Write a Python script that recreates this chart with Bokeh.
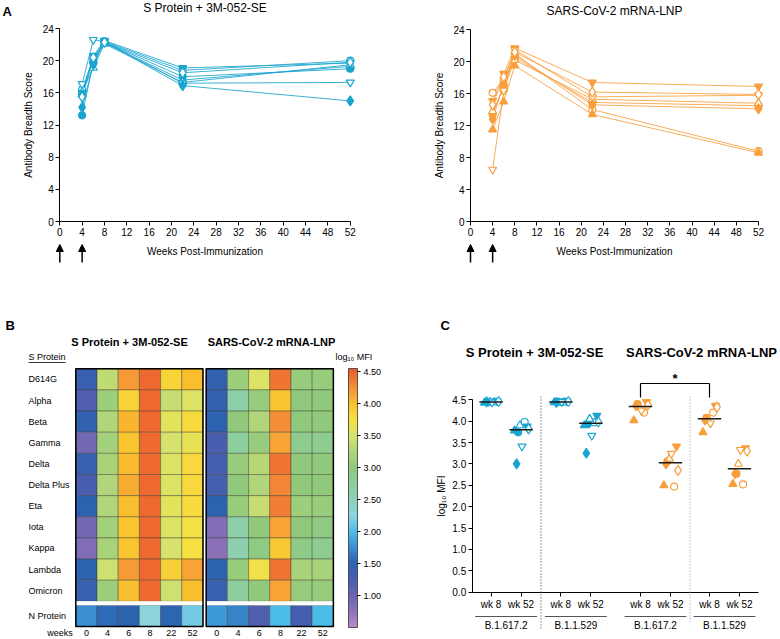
import numpy as np
from bokeh.plotting import figure
from bokeh.layouts import column, row
from bokeh.models import (ColumnDataSource, Range1d, FixedTicker, Label, Arrow, NormalHead,
                          ColorBar, LinearColorMapper, PrintfTickFormatter)
from bokeh.core.properties import value
from bokeh.embed import file_html
from bokeh.resources import INLINE

FONT = "Liberation Sans"
BLUE = "#19a5cf"
ORANGE = "#f89f3d"

# ---------------- data: panel A ----------------
weeks_a = [4, 6, 8, 22, 52]
boost_weeks = [0, 4]
animal_markers = ["circle", "circle", "triangle", "triangle",
                  "inverted_triangle", "inverted_triangle", "diamond", "diamond"]
animal_filled = [True, False, True, False, True, False, True, False]
s_breadth = [
    [13.2, 19.8, 22.3, 18.0, 19.0],
    [16.4, 20.3, 22.4, 18.8, 20.0],
    [15.8, 20.0, 22.2, 17.6, 19.3],
    [16.1, 19.1, 22.1, 17.3, 19.5],
    [16.0, 20.6, 22.5, 19.1, 19.7],
    [17.1, 22.6, 22.4, 17.2, 17.3],
    [14.2, 19.5, 22.3, 16.9, 15.0],
    [15.5, 20.4, 22.3, 18.5, 19.8],
]
m_breadth = [
    [13.4, 17.0, 20.5, 14.9, 14.5],
    [16.1, 17.8, 21.0, 14.0, 8.8],
    [11.5, 15.0, 19.5, 13.4, 8.6],
    [13.8, 16.6, 20.2, 15.3, 14.8],
    [15.1, 18.5, 21.7, 17.4, 16.9],
    [6.5, 16.4, 21.5, 15.6, 15.8],
    [12.8, 17.3, 20.8, 14.6, 14.1],
    [14.6, 18.1, 21.2, 16.2, 15.9],
]

# ---------------- data: panel B ----------------
antigens = ["D614G", "Alpha", "Beta", "Gamma", "Delta", "Delta Plus", "Eta",
            "Iota", "Kappa", "Lambda", "Omicron", "N Protein"]
heat_weeks = [0, 4, 6, 8, 22, 52]
s_heat = [
    [1.40, 3.35, 4.20, 4.47, 3.85, 4.00],
    [1.20, 3.10, 3.85, 4.47, 3.40, 3.55],
    [1.45, 3.25, 4.05, 4.47, 3.60, 3.80],
    [0.95, 3.15, 3.95, 4.47, 3.50, 3.62],
    [1.40, 3.20, 4.02, 4.47, 3.55, 3.82],
    [1.25, 3.25, 4.10, 4.47, 3.55, 3.82],
    [1.50, 3.25, 4.00, 4.47, 3.60, 3.80],
    [0.95, 3.15, 3.95, 4.47, 3.55, 3.72],
    [0.85, 3.20, 3.95, 4.47, 3.50, 3.75],
    [1.50, 3.45, 4.20, 4.47, 3.88, 4.15],
    [1.40, 3.10, 4.00, 4.47, 3.45, 4.00],
    [1.75, 1.55, 1.50, 2.30, 1.52, 2.15],
]
m_heat = [
    [1.45, 3.10, 3.55, 4.40, 3.05, 3.05],
    [1.45, 2.65, 3.05, 3.95, 3.00, 3.00],
    [1.50, 3.00, 3.25, 4.25, 3.00, 3.00],
    [1.25, 2.70, 3.05, 4.15, 2.85, 2.85],
    [1.30, 3.05, 3.30, 4.40, 3.00, 3.00],
    [1.30, 3.00, 3.25, 4.30, 3.00, 3.00],
    [1.50, 3.05, 3.40, 4.35, 3.10, 3.05],
    [0.85, 2.65, 3.00, 4.15, 3.00, 2.95],
    [0.80, 2.60, 2.95, 3.92, 2.90, 2.85],
    [1.50, 3.05, 3.70, 4.40, 3.20, 3.20],
    [1.40, 2.70, 3.00, 4.15, 3.05, 3.05],
    [1.80, 1.70, 1.20, 2.00, 1.30, 2.00],
]
vaccines = ["S Protein + 3M-052-SE", "SARS-CoV-2 mRNA-LNP"]
cbar_ticks = [1.0, 1.5, 2.0, 2.5, 3.0, 3.5, 4.0, 4.5]

# ---------------- data: panel C ----------------
c_variants = ["B.1.617.2", "B.1.1.529", "B.1.617.2", "B.1.1.529"]
c_times = ["wk 8", "wk 52"]
s_delta_wk8 = [4.44, 4.46, 4.43, 4.45, 4.47, 4.44, 4.45, 4.46]
s_delta_wk52 = [3.74, 3.98, 3.78, 3.90, 3.88, 3.41, 3.00, 3.82]
s_omicron_wk8 = [4.45, 4.46, 4.44, 4.43, 4.47, 4.45, 4.44, 4.46]
s_omicron_wk52 = [3.93, 3.97, 3.90, 4.05, 4.13, 3.66, 3.25, 3.98]
m_delta_wk8 = [4.40, 4.20, 4.02, 4.32, 4.45, 4.25, 4.36, 4.38]
m_delta_wk52 = [3.06, 2.47, 2.50, 3.12, 3.41, 3.24, 3.00, 2.85]
m_omicron_wk8 = [4.08, 4.20, 3.74, 4.00, 4.36, 3.95, 4.03, 4.33]
m_omicron_wk52 = [2.77, 2.52, 2.53, 3.00, 3.37, 3.33, 2.77, 3.30]
c_yticks = [0.0, 0.5, 1.0, 1.5, 2.0, 2.5, 3.0, 3.5, 4.0, 4.5]

# ---------------- helpers ----------------
MSIZE = {"circle": 7, "triangle": 8, "inverted_triangle": 8, "diamond": 10}


class PxMap:
    """Maps pixel positions inside a figure (from its top-left) to data units."""
    def __init__(self, W, H, ox, oy, sx, sy):
        self.W, self.H, self.ox, self.oy, self.sx, self.sy = W, H, ox, oy, sx, sy
        self.x0, self.x1 = -ox / sx, (W - ox) / sx
        self.y0, self.y1 = -(H - oy) / sy, oy / sy

    def x(self, px):
        return (px - self.ox) / self.sx

    def y(self, py):
        return (self.oy - py) / self.sy


def make_fig(m):
    p = figure(width=m.W, height=m.H, x_range=Range1d(m.x0, m.x1), y_range=Range1d(m.y0, m.y1),
               output_backend="svg", toolbar_location=None, min_border=0)
    p.grid.visible = False
    p.outline_line_color = None
    p.background_fill_color = "white"
    p.border_fill_color = "white"
    if "frame_align" in p.properties():
        p.frame_align = False
    return p


def style_axes(p, size="10px"):
    for ax in p.axis:
        ax.axis_line_color = "black"
        ax.major_tick_line_color = "black"
        ax.minor_tick_line_color = None
        ax.major_tick_in = 0
        ax.major_tick_out = 4
        ax.major_label_text_font = FONT
        ax.major_label_text_font_size = size
        ax.major_label_text_color = "black"
        ax.axis_label_text_font = FONT
        ax.axis_label_text_font_size = size
        ax.axis_label_text_font_style = "normal"
        ax.axis_label_text_color = "black"


def lab(p, x, y, text, size, bold=False, align="center", baseline="middle"):
    p.add_layout(Label(x=x, y=y, text=text, text_font=FONT, text_font_size=f"{size}px",
                       text_font_style="bold" if bold else "normal", text_color="black",
                       text_align=align, text_baseline=baseline))


def seg(p, x0, y0, x1, y1, color="black", width=1.0, dash="solid"):
    p.add_layout(Arrow(end=None, x_start=x0, y_start=y0, x_end=x1, y_end=y1,
                       line_color=color, line_width=width, line_dash=dash))


# ---------------- panel A ----------------
TOP_H = 300


def make_panel_a(title, data, color, m, title_py, letter=None):
    p = make_fig(m)
    style_axes(p)
    p.xaxis.fixed_location = 0
    p.yaxis.fixed_location = 0
    p.xaxis.bounds = (0, 52)
    p.yaxis.bounds = (0, 24)
    p.xaxis.ticker = FixedTicker(ticks=list(range(0, 53, 4)))
    p.yaxis.ticker = FixedTicker(ticks=list(range(0, 25, 4)))
    p.xaxis.axis_label = "Weeks Post-Immunization"
    p.yaxis.axis_label = "Antibody Breadth Score"
    p.xaxis.major_label_standoff = 2
    p.yaxis.major_label_standoff = 2
    p.xaxis.axis_label_standoff = 7
    p.yaxis.axis_label_standoff = 5
    for vals in data:
        p.line(weeks_a, vals, line_color=color, line_width=1, line_alpha=0.85)
    for vals, mk, f in zip(data, animal_markers, animal_filled):
        p.scatter(weeks_a, vals, marker=mk, size=MSIZE[mk], line_color=color,
                  fill_color=color if f else "white", line_width=1.2)
    lab(p, 26, m.y(title_py), title, 12)
    for w in boost_weeks:
        p.add_layout(Arrow(end=NormalHead(size=7, fill_color="black", line_color="black"),
                           x_start=w, y_start=m.y(262), x_end=w, y_end=m.y(244),
                           line_color="black", line_width=1.5))
    if letter:
        lab(p, m.x(2), m.y(10.5), letter, 13, bold=True, align="left")
    return p


ma1 = PxMap(390, TOP_H, 59.3, 221, 5.585, 8.04)
ma2 = PxMap(390, TOP_H, 80.0, 221, 5.538, 7.99)
pa1 = make_panel_a(vaccines[0], s_breadth, BLUE, ma1, 7.5, letter="A")
pa2 = make_panel_a(vaccines[1], m_breadth, ORANGE, ma2, 10)

# ---------------- panel B ----------------
BOT_H = 338
WB = 432
mb = PxMap(WB, BOT_H, 75.3, 326, 21.2, 21.14)
n_rows = len(antigens) - 1
row_gap = 0.19
block_gap = 0.15
ytop = n_rows + row_gap + 1

stops = [(0.50, "#b98ac8"), (0.75, "#8f72b8"), (1.00, "#6a65b2"), (1.25, "#4a5eb0"),
         (1.50, "#2c62b0"), (1.75, "#3a8fd3"), (2.00, "#4dbde9"), (2.25, "#8bd5e0"),
         (2.50, "#8dd1ba"), (2.75, "#8dcd9a"), (3.00, "#8fc97c"), (3.25, "#b0d57a"),
         (3.50, "#d5e26c"), (3.75, "#f7e142"), (4.00, "#f9c02c"), (4.25, "#f5913a"),
         (4.55, "#ec5a2b")]
sv = np.array([s[0] for s in stops])
srgb = np.array([[int(s[1][i:i + 2], 16) for i in (1, 3, 5)] for s in stops], dtype=float)
grid_v = np.linspace(sv[0], sv[-1], 256)
palette = ["#%02x%02x%02x" % tuple(int(round(np.interp(g, sv, srgb[:, k]))) for k in range(3))
           for g in grid_v]
mapper = LinearColorMapper(palette=palette, low=sv[0], high=sv[-1])

pb = make_fig(mb)
style_axes(pb, "9px")
pb.yaxis.visible = False

xs, ys, vs = [], [], []
col_centers = []
for b, block in enumerate([s_heat, m_heat]):
    x_off = b * (len(heat_weeks) + block_gap)
    for i in range(len(heat_weeks)):
        col_centers.append(x_off + i + 0.5)
    for r, rowvals in enumerate(block):
        yc = ytop - r - 0.5 if r < n_rows else 0.5
        for i, v in enumerate(rowvals):
            xs.append(x_off + i + 0.5)
            ys.append(yc)
            vs.append(v)
src_b = ColumnDataSource(dict(x=xs, y=ys, v=vs))
pb.rect("x", "y", width=1, height=1, source=src_b,
        fill_color={"field": "v", "transform": mapper},
        line_color="#3d3d30", line_alpha=0.6, line_width=0.7)
block_centers = [b * (len(heat_weeks) + block_gap) + len(heat_weeks) / 2 for b in range(2)]
pb.rect(block_centers, [1 + row_gap / 2] * 2, width=len(heat_weeks), height=row_gap,
        fill_color="white", line_color=None)
pb.rect(block_centers, [ytop / 2] * 2, width=len(heat_weeks), height=ytop,
        fill_color=None, line_color="black", line_width=1.5)

row_y = [ytop - r - 0.5 for r in range(n_rows)] + [0.5]
label_x = mb.x(28)
pb.text([label_x] * len(antigens), row_y, text=antigens, text_font=value(FONT),
        text_font_size="9px", text_baseline="middle", text_align="left", text_color="black")

weeks_tick = mb.x(59.5)
pb.xaxis.fixed_location = 0
pb.xaxis.bounds = (weeks_tick - 0.5, col_centers[-1] + 0.5)
pb.xaxis.ticker = FixedTicker(ticks=[weeks_tick] + col_centers)
overrides = {weeks_tick: "weeks"}
for k, cx in enumerate(col_centers):
    overrides[cx] = str(heat_weeks[k % len(heat_weeks)])
pb.xaxis.major_label_overrides = overrides
pb.xaxis.axis_line_color = None
pb.xaxis.major_tick_line_color = None
pb.xaxis.major_tick_out = 0
pb.xaxis.major_label_standoff = 1

lab(pb, mb.x(129), mb.y(41.7), vaccines[0], 11, bold=True)
lab(pb, mb.x(271), mb.y(41.7), vaccines[1], 11, bold=True)
lab(pb, label_x, mb.y(56.5), "S Protein", 9, align="left")
seg(pb, label_x, mb.y(62), mb.x(65), mb.y(62), color="black", width=0.8)
lab(pb, mb.x(335), mb.y(56.5), "log\u2081\u2080 MFI", 9, align="left")
lab(pb, mb.x(5), mb.y(25), "B", 13, bold=True, align="left")

cb = ColorBar(color_mapper=mapper, location=(348, BOT_H - 327), width=9,
              height=259, padding=0, margin=0,
              ticker=FixedTicker(ticks=cbar_ticks), formatter=PrintfTickFormatter(format="%.2f"),
              major_label_text_font=FONT, major_label_text_font_size="9px",
              major_label_text_color="black", label_standoff=3,
              major_tick_in=0, major_tick_out=3, major_tick_line_color="black",
              bar_line_color="#333333", bar_line_width=0.8,
              background_fill_alpha=0, border_line_color=None)
pb.add_layout(cb)

# ---------------- panel C ----------------
WC = 780 - WB
mc = PxMap(WC, BOT_H, 471.7 - WB, 291.7, 30.0, 42.76)
x_end_c = 9.55

group_centers = [1.13, 3.455, 6.11, 8.41]
c_x = []
for gc in group_centers:
    c_x += [gc - 0.5, gc + 0.5]
c_sets = [s_delta_wk8, s_delta_wk52, s_omicron_wk8, s_omicron_wk52,
          m_delta_wk8, m_delta_wk52, m_omicron_wk8, m_omicron_wk52]
c_colors = [BLUE] * 4 + [ORANGE] * 4
jitter = [-0.10, 0.12, -0.22, -0.04, 0.20, 0.03, -0.15, 0.25]

pc = make_fig(mc)
style_axes(pc)
pc.xaxis.fixed_location = 0
pc.yaxis.fixed_location = 0
pc.xaxis.bounds = (0, x_end_c)
pc.yaxis.bounds = (0, 4.5)
pc.yaxis.ticker = FixedTicker(ticks=c_yticks)
pc.yaxis.formatter = PrintfTickFormatter(format="%.1f")
pc.yaxis.axis_label = "log\u2081\u2080 MFI"
pc.yaxis.major_label_standoff = 2
pc.yaxis.axis_label_standoff = 3
pc.xaxis.ticker = FixedTicker(ticks=c_x)
pc.xaxis.major_label_overrides = {cx: c_times[k % 2] for k, cx in enumerate(c_x)}
pc.xaxis.major_label_standoff = 3

px_, py_, pm_, pf_, ps_, pl_ = [], [], [], [], [], []
for k, vals in enumerate(c_sets):
    for a, v in enumerate(vals):
        mk = animal_markers[a]
        px_.append(c_x[k] + jitter[a])
        py_.append(v)
        pm_.append(mk)
        pf_.append(c_colors[k] if animal_filled[a] else "white")
        ps_.append(MSIZE[mk])
        pl_.append(c_colors[k])
src_c = ColumnDataSource(dict(x=px_, y=py_, marker=pm_, fill=pf_, size=ps_, line=pl_))
pc.scatter("x", "y", marker="marker", size="size", fill_color="fill", line_color="line",
           line_width=1.2, source=src_c)
med = [float(np.median(v)) for v in c_sets]
pc.segment([x - 0.39 for x in c_x], med, [x + 0.39 for x in c_x], med,
           line_color="#1a1a1a", line_width=1.5)

for g, gc in enumerate(group_centers):
    seg(pc, gc - 1.03, mc.y(316), gc + 1.03, mc.y(316), color="#555555", width=1.2)
    lab(pc, gc, mc.y(325), c_variants[g], 10)
sep1 = (c_x[1] + c_x[2]) / 2
sep2 = (c_x[5] + c_x[6]) / 2
seg(pc, sep1, mc.y(96), sep1, mc.y(330), color="#333333", width=1, dash="1 2")
seg(pc, sep2, mc.y(96), sep2, mc.y(323), color="#999999", width=1, dash="1 2")
# significance bracket between wk 8 of the two mRNA-LNP groups
bx0, bx1 = c_x[4], c_x[6]
yb_top, yb_bot = mc.y(83), mc.y(97)
seg(pc, bx0, yb_top, bx1, yb_top, width=1.2)
seg(pc, bx0, yb_top, bx0, yb_bot, width=1.2)
seg(pc, bx1, yb_top, bx1, yb_bot, width=1.2)
lab(pc, (bx0 + bx1) / 2, mc.y(78), "*", 13, bold=True)
lab(pc, mc.x(534 - WB), mc.y(51.7), vaccines[0], 13, bold=True)
lab(pc, mc.x(701 - WB), mc.y(51.7), vaccines[1], 13, bold=True)
lab(pc, mc.x(8), mc.y(25), "C", 13, bold=True, align="left")

layout = column(row(pa1, pa2, spacing=0), row(pb, pc, spacing=0), spacing=0)
open("out.html", "w").write(file_html(layout, INLINE))
